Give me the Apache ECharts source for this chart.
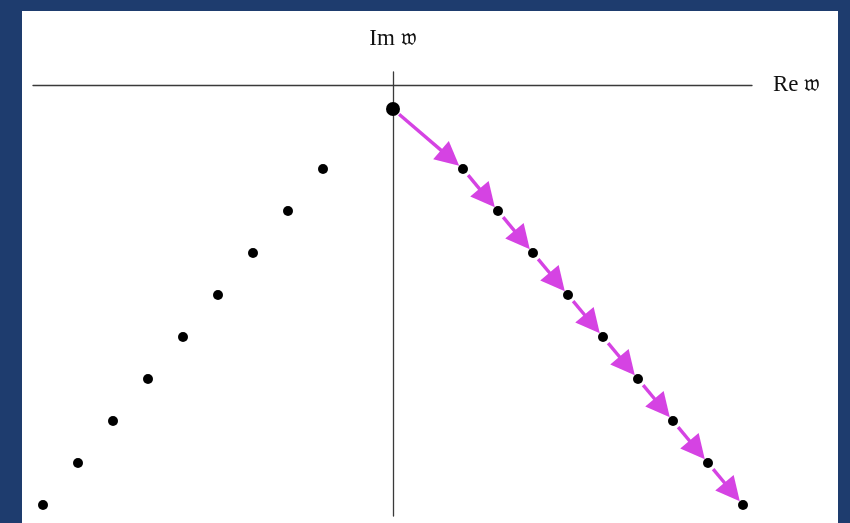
<!DOCTYPE html>
<html>
<head>
<meta charset="utf-8">
<script src="https://cdn.jsdelivr.net/npm/echarts@6/dist/echarts.min.js"></script>
<style>
  html, body { margin: 0; padding: 0; width: 850px; height: 523px; background: #1e3c6e; overflow: hidden; }
  #chart { position: absolute; left: 22px; top: 11px; width: 816px; height: 512px; background: #ffffff; }
</style>
</head>
<body>
<div id="chart"></div>
<script>
// Poles in the complex w-plane (Re, Im)
const leftRe  = [-10, -9, -8, -7, -6, -5, -4, -3, -2];
const leftIm  = [-10, -9, -8, -7, -6, -5, -4, -3, -2];
const rightRe = [2, 3, 4, 5, 6, 7, 8, 9, 10];
const rightIm = [-2, -3, -4, -5, -6, -7, -8, -9, -10];
const startRe = [0];
const startIm = [-0.57];
const xLabel = 'Re 𝔴';
const yLabel = 'Im 𝔴';

const leftPts  = leftRe.map((x, i) => [x, leftIm[i]]);
const rightPts = rightRe.map((x, i) => [x, rightIm[i]]);
const startPts = startRe.map((x, i) => [x, startIm[i]]);
const chain = startPts.concat(rightPts);
const segs = [];
for (let i = 0; i < chain.length - 1; i++) {
  segs.push([chain[i][0], chain[i][1], chain[i + 1][0], chain[i + 1][1]]);
}

const labelFont = 'Liberation Serif, DejaVu Serif, serif';
const chart = echarts.init(document.getElementById('chart'), null, { renderer: 'canvas' });
const option = {
  animation: false,
  grid: { left: 11, right: 86, top: 61, bottom: 7 },
  xAxis: {
    type: 'value', min: -10.286, max: 10.257,
    axisLine: { onZero: true, lineStyle: { color: '#3a3a3a', width: 1.3 } },
    axisTick: { show: false }, axisLabel: { show: false }, splitLine: { show: false },
    name: xLabel, nameLocation: 'end', nameGap: 21,
    nameTextStyle: { fontFamily: labelFont, fontSize: 23, color: '#111', align: 'left', verticalAlign: 'middle' }
  },
  yAxis: {
    type: 'value', min: -10.262, max: 0.31,
    axisLine: { onZero: true, lineStyle: { color: '#3a3a3a', width: 1.3 } },
    axisTick: { show: false }, axisLabel: { show: false }, splitLine: { show: false },
    name: yLabel, nameLocation: 'end', nameGap: 33,
    nameTextStyle: { fontFamily: labelFont, fontSize: 23, color: '#111', align: 'center', verticalAlign: 'middle' }
  },
  series: [
    {
      type: 'custom',
      data: segs,
      z: 3,
      renderItem: function (params, api) {
        const a = api.coord([api.value(0), api.value(1)]);
        const b = api.coord([api.value(2), api.value(3)]);
        const dx = b[0] - a[0], dy = b[1] - a[1];
        const L = Math.sqrt(dx * dx + dy * dy);
        const ux = dx / L, uy = dy / L;
        const px = -uy, py = ux;
        const s0 = 8;
        const tipBack = 5, head = 24, half = 12;
        const p0 = [a[0] + ux * s0, a[1] + uy * s0];
        const tip = [b[0] - ux * tipBack, b[1] - uy * tipBack];
        const base = [tip[0] - ux * head, tip[1] - uy * head];
        return {
          type: 'group',
          children: [
            { type: 'line', shape: { x1: p0[0], y1: p0[1], x2: base[0] + ux * 3, y2: base[1] + uy * 3 },
              style: { stroke: '#d543e3', lineWidth: 3.4 } },
            { type: 'polygon', shape: { points: [tip, [base[0] + px * half, base[1] + py * half], [base[0] - px * half, base[1] - py * half]] },
              style: { fill: '#d543e3' } }
          ]
        };
      }
    },
    { type: 'scatter', data: leftPts, symbolSize: 10, itemStyle: { color: '#000', opacity: 1 }, z: 4 },
    { type: 'scatter', data: rightPts, symbolSize: 10, itemStyle: { color: '#000', opacity: 1 }, z: 4 },
    { type: 'scatter', data: startPts, symbolSize: 14, itemStyle: { color: '#000', opacity: 1 }, z: 4 }
  ]
};
chart.setOption(option);
</script>
</body>
</html>
